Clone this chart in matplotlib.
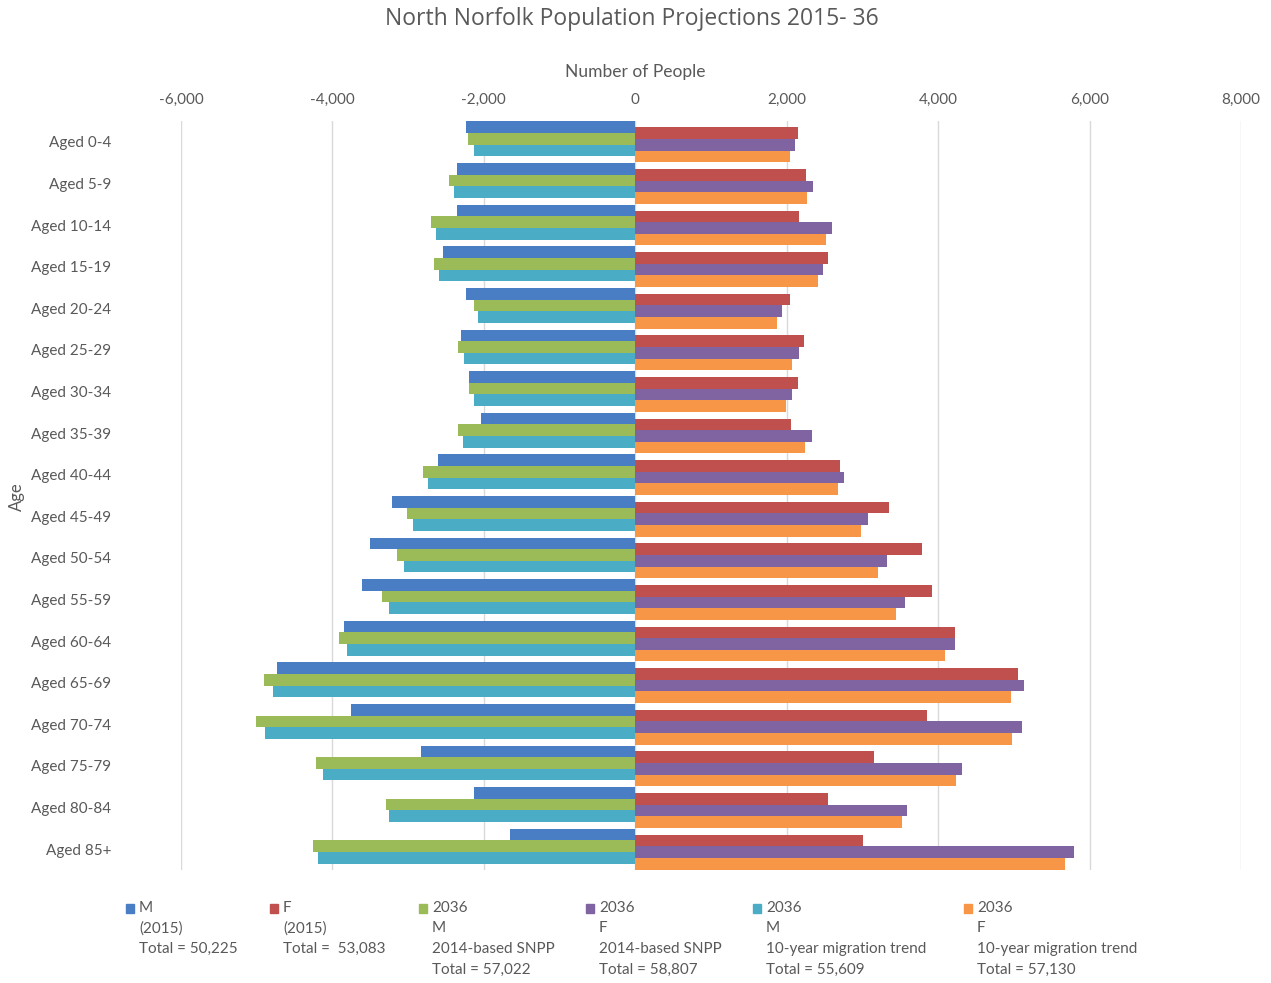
import numpy as np
import matplotlib
matplotlib.use("Agg")
import matplotlib.pyplot as plt
from matplotlib.patches import Rectangle
from matplotlib.ticker import FuncFormatter

plt.rcParams["font.family"] = ["Lato", "DejaVu Sans"]

ages = ["Aged 0-4", "Aged 5-9", "Aged 10-14", "Aged 15-19", "Aged 20-24",
        "Aged 25-29", "Aged 30-34", "Aged 35-39", "Aged 40-44", "Aged 45-49",
        "Aged 50-54", "Aged 55-59", "Aged 60-64", "Aged 65-69", "Aged 70-74",
        "Aged 75-79", "Aged 80-84", "Aged 85+"]

# males are plotted to the left (negative), females to the right
m_2015 = [2232, 2351, 2351, 2545, 2232, 2308, 2200, 2039, 2604, 3212,
          3508, 3615, 3852, 4734, 3761, 2835, 2125, 1652]
f_2015 = [2151, 2249, 2168, 2539, 2044, 2233, 2147, 2050, 2706, 3346,
          3793, 3922, 4218, 5057, 3852, 3153, 2550, 3002]
m_2036_snpp = [2211, 2459, 2695, 2652, 2136, 2340, 2190, 2340, 2808, 3018,
               3147, 3341, 3911, 4907, 5003, 4213, 3287, 4261]
f_2036_snpp = [2114, 2346, 2598, 2480, 1937, 2157, 2066, 2330, 2760, 3072,
               3325, 3562, 4218, 5133, 5111, 4320, 3583, 5789]
m_2036_mig = [2136, 2389, 2631, 2588, 2071, 2265, 2136, 2276, 2738, 2932,
              3061, 3255, 3804, 4783, 4885, 4121, 3255, 4186]
f_2036_mig = [2044, 2270, 2523, 2410, 1872, 2071, 1996, 2243, 2679, 2986,
              3212, 3443, 4094, 4966, 4982, 4239, 3529, 5681]

series = [
    (m_2015, -1, "#4A7EC4", ["M", "(2015)", "Total = 50,225"]),
    (f_2015, 1, "#C0504D", ["F", "(2015)", "Total =  53,083"]),
    (m_2036_snpp, -1, "#9BBB59", ["2036", "M", "2014-based SNPP", "Total = 57,022"]),
    (f_2036_snpp, 1, "#8064A2", ["2036", "F", "2014-based SNPP", "Total = 58,807"]),
    (m_2036_mig, -1, "#4BACC6", ["2036", "M", "10-year migration trend", "Total = 55,609"]),
    (f_2036_mig, 1, "#F79646", ["2036", "F", "10-year migration trend", "Total = 57,130"]),
]

W, H = 1271, 983
TXT = "#595959"

fig = plt.figure(figsize=(W / 100, H / 100), dpi=100)
ax = fig.add_axes([181 / W, (H - 870) / H, (1241 - 181) / W, (870 - 121) / H])

y = np.arange(len(ages))
h = 0.279
step = h / 2  # 50% overlap between consecutive series
for i, (vals, sign, color, _) in enumerate(series):
    ax.barh(y + (i - 2.5) * step, sign * np.array(vals), height=h,
            color=color, zorder=3)

ax.set_xlim(-6000, 8000)
ax.set_ylim(len(ages) - 0.5, -0.5)
ax.set_xticks(np.arange(-6000, 8001, 2000))
ax.xaxis.set_major_formatter(FuncFormatter(lambda v, _: f"{v:,.0f}"))
ax.xaxis.tick_top()
ax.tick_params(axis="x", length=0, pad=10, labelsize=11, labelcolor=TXT)
ax.grid(axis="x", color="#D9D9D9", linewidth=1, zorder=0)

ax.set_yticks(y)
ax.set_yticklabels(ages)
ax.tick_params(axis="y", length=0, pad=50, labelsize=11, labelcolor=TXT)
for s in ax.spines.values():
    s.set_visible(False)

fig.text(635 / W, 1 - 72 / H, "Number of People", ha="center", va="center",
         fontsize=12.5, color=TXT)
fig.text(17 / W, 1 - 497 / H, "Age", rotation=90, ha="center", va="center",
         fontsize=12, color=TXT)
fig.text(632 / W, 1 - 19 / H, "North Norfolk Population Projections 2015- 36",
         ha="center", va="center", fontsize=16.5, color=TXT,
         family=["Open Sans", "DejaVu Sans"])

# legend laid out as text columns under the plot
legend_x = [126, 270, 419, 586, 753, 964]
line_y = [908, 928.5, 949, 970]
for (vals, sign, color, lines), lx in zip(series, legend_x):
    fig.patches.append(Rectangle((lx / W, 1 - (line_y[0] + 4.5) / H), 8 / W, 9 / H,
                                 transform=fig.transFigure, color=color))
    for k, txt in enumerate(lines):
        fig.text((lx + 13) / W, 1 - line_y[k] / H, txt, ha="left", va="center",
                 fontsize=11, color=TXT)

fig.savefig("out.png", dpi=100)
